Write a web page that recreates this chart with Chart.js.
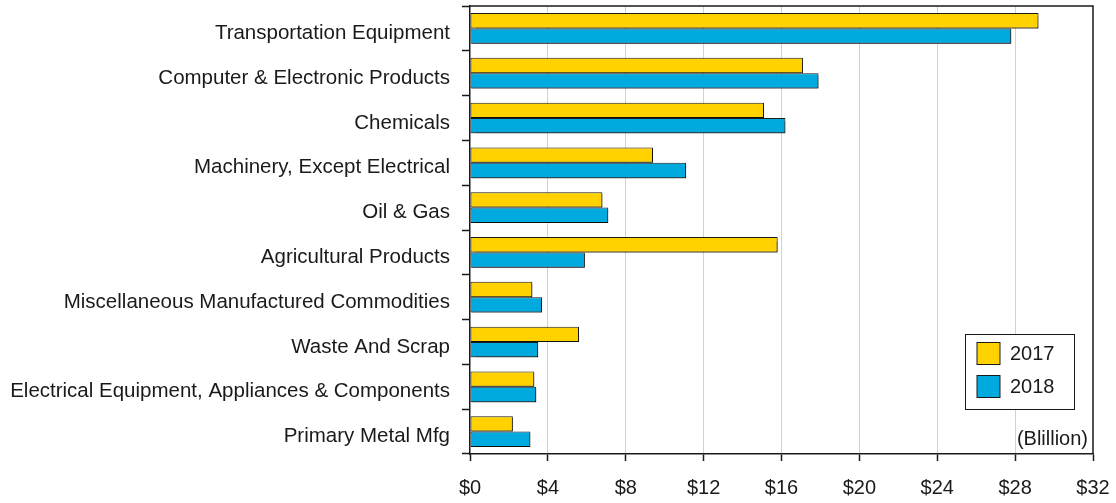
<!DOCTYPE html>
<html>
<head>
<meta charset="utf-8">
<script src="https://cdn.jsdelivr.net/npm/chart.js@4.4.1/dist/chart.umd.min.js"></script>
<style>
  html, body { margin: 0; padding: 0; background: #fff; }
  #wrap { width: 1116px; height: 503px; }
</style>
</head>
<body>
<div id="wrap"><canvas id="myChart" width="1116" height="503"></canvas></div>
<script>
const categories = [
    'Transportation Equipment',
    'Computer & Electronic Products',
    'Chemicals',
    'Machinery, Except Electrical',
    'Oil & Gas',
    'Agricultural Products',
    'Miscellaneous Manufactured Commodities',
    'Waste And Scrap',
    'Electrical Equipment, Appliances & Components',
    'Primary Metal Mfg'
];
const values2017 = [29.2, 17.1, 15.1, 9.4, 6.8, 15.8, 3.2, 5.6, 3.3, 2.2];
const values2018 = [27.8, 17.9, 16.2, 11.1, 7.1, 5.9, 3.7, 3.5, 3.4, 3.1];
const xTicks = [0, 4, 8, 12, 16, 20, 24, 28, 32];

const FONT = '"Liberation Sans", Arial, Helvetica, sans-serif';
const YELLOW = '#ffd200';
const BLUE = '#00aadf';
const INK = '#1a1a1a';

// soft drop shadow behind the bars
const barShadow = {
    id: 'barShadow',
    beforeDatasetDraw(chart) {
        const ctx = chart.ctx;
        ctx.save();
        ctx.shadowColor = 'rgba(0,0,0,0.45)';
        ctx.shadowBlur = 1;
        ctx.shadowOffsetX = 1.5;
        ctx.shadowOffsetY = 1.5;
    },
    afterDatasetDraw(chart) {
        chart.ctx.restore();
    }
};

// frame, legend box and unit note
const extras = {
    id: 'extras',
    afterDraw(chart) {
        const ctx = chart.ctx;
        const a = chart.chartArea;
        ctx.save();
        ctx.strokeStyle = INK;
        ctx.lineWidth = 1.5;
        ctx.beginPath();
        ctx.moveTo(a.left, a.top);
        ctx.lineTo(a.right, a.top);
        ctx.lineTo(a.right, a.bottom);
        ctx.stroke();

        // legend
        const bx = 965.5, by = 334.5, bw = 109, bh = 75;
        ctx.fillStyle = '#fff';
        ctx.fillRect(bx, by, bw, bh);
        ctx.lineWidth = 1;
        ctx.strokeStyle = INK;
        ctx.strokeRect(bx, by, bw, bh);
        ctx.font = '20px ' + FONT;
        ctx.textBaseline = 'middle';
        ctx.textAlign = 'left';
        chart.data.datasets.forEach((ds, i) => {
            const sy = 342.5 + i * 33;
            ctx.fillStyle = ds.backgroundColor;
            ctx.fillRect(977, sy, 23, 22);
            ctx.strokeRect(977, sy, 23, 22);
            ctx.fillStyle = INK;
            ctx.fillText(ds.label, 1010, sy + 11.5);
        });

        ctx.textAlign = 'right';
        ctx.fillText('(Blillion)', a.right - 5, 439);
        ctx.restore();
    }
};

const ctx = document.getElementById('myChart').getContext('2d');
const myChart = new Chart(ctx, {
    type: 'bar',
    data: {
        labels: categories,
        datasets: [{
            label: '2017',
            data: values2017,
            backgroundColor: YELLOW,
            borderColor: INK,
            borderWidth: 1,
            borderSkipped: false,
            categoryPercentage: 0.685,
            barPercentage: 1
        }, {
            label: '2018',
            data: values2018,
            backgroundColor: BLUE,
            borderColor: INK,
            borderWidth: 1,
            borderSkipped: false,
            categoryPercentage: 0.685,
            barPercentage: 1
        }]
    },
    options: {
        indexAxis: 'y',
        responsive: false,
        animation: false,
        layout: { padding: { left: 0, top: 6, right: 23, bottom: 0 } },
        plugins: {
            legend: { display: false },
            tooltip: { enabled: false }
        },
        scales: {
            x: {
                min: 0,
                max: 32,
                afterBuildTicks: (scale) => { scale.ticks = xTicks.map(v => ({ value: v })); },
                afterFit: (scale) => {
                    scale.height = 49;
                    scale.paddingLeft = 0;
                    scale.paddingRight = 0;
                },
                ticks: {
                    callback: (v) => '$' + v,
                    font: { family: FONT, size: 20 },
                    color: INK,
                    padding: 15,
                    maxRotation: 0
                },
                grid: {
                    color: (c) => (c.tick && (c.tick.value === 0 || c.tick.value === 32)) ? 'rgba(0,0,0,0)' : '#d2d2d2',
                    lineWidth: 1,
                    tickColor: INK,
                    tickLength: 7,
                    tickWidth: 1.5
                },
                border: { display: true, color: INK, width: 1.5 }
            },
            y: {
                afterFit: (scale) => {
                    scale.width = 470;
                    scale.paddingTop = 0;
                    scale.paddingBottom = 0;
                },
                ticks: {
                    font: { family: FONT, size: 20.5 },
                    color: INK,
                    padding: 12,
                    labelOffset: 5
                },
                grid: {
                    drawOnChartArea: false,
                    offset: true,
                    tickColor: INK,
                    tickLength: 8,
                    tickWidth: 1.5
                },
                border: { display: true, color: INK, width: 1.5 }
            }
        }
    },
    plugins: [barShadow, extras]
});
</script>
</body>
</html>
